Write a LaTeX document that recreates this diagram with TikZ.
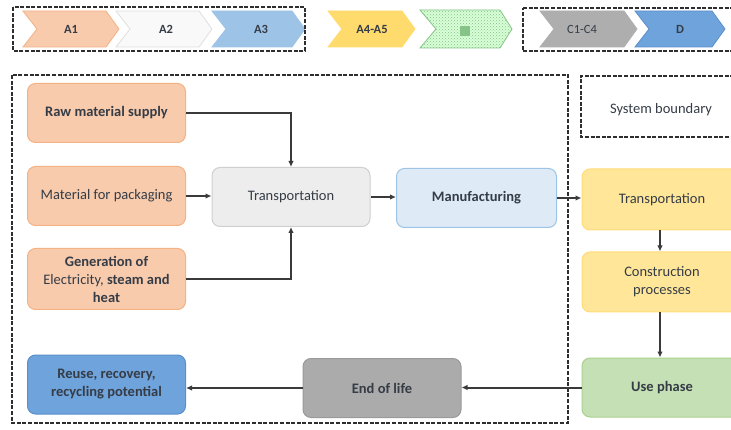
\documentclass[tikz,border=0pt]{standalone}
\usepackage{fontspec}
\setmainfont{Carlito}
\usetikzlibrary{arrows.meta,patterns}
\definecolor{orfill}{HTML}{F8CBAD}
\definecolor{ordraw}{HTML}{F4B183}
\definecolor{gyfill}{HTML}{EDEDED}
\definecolor{gydraw}{HTML}{D0CECE}
\definecolor{lbfill}{HTML}{DEEBF7}
\definecolor{lbdraw}{HTML}{9DC3E6}
\definecolor{yefill}{HTML}{FFE699}
\definecolor{yedraw}{HTML}{FFDC7A}
\definecolor{grfill}{HTML}{C5E0B4}
\definecolor{grdraw}{HTML}{A9D18E}
\definecolor{dgfill}{HTML}{ABABAB}
\definecolor{dgdraw}{HTML}{9A9A9A}
\definecolor{bufill}{HTML}{6FA3DC}
\definecolor{budraw}{HTML}{5A8FCB}
\definecolor{a3fill}{HTML}{9DC3E6}
\definecolor{a4fill}{HTML}{FFDB6E}
\definecolor{c1fill}{HTML}{AEAEAE}
\definecolor{dfill}{HTML}{6FA3DC}
\definecolor{txt}{HTML}{353C46}
\definecolor{arr}{HTML}{3A3A3A}
\definecolor{bnd}{HTML}{2E2E2E}
\definecolor{chgreen}{HTML}{86C386}
\begin{document}
\begin{tikzpicture}[x=1pt,y=-1pt,
  every node/.style={font=\fontsize{14.5}{18}\selectfont, text=txt, align=center},
  stage/.style={rounded corners=8pt, line width=1pt, minimum width=158pt, minimum height=59pt, inner sep=2pt},
  orbox/.style={stage, fill=orfill, draw=ordraw},
  bndline/.style={draw=bnd, line width=2.4pt, dash pattern=on 4pt off 1.6pt},
  flow/.style={draw=arr, line width=2pt, -{Latex[length=6pt,width=5.5pt]}},
  chev/.style={line width=0.8pt},
  chlabel/.style={font=\fontsize{12.5}{14}\selectfont\bfseries, text=txt}
]
\useasboundingbox (0,0) rectangle (731,430);
\clip (0,0) rectangle (731,430);

% ---- top row chevrons ----
\def\chevpath#1#2{(#1,11) -- (#2-13,11) -- (#2,29) -- (#2-13,47) -- (#1,47) -- (#1+14,29) -- cycle}
\filldraw[chev, fill=orfill, draw=ordraw] \chevpath{23}{119};
\node[chlabel] (a1) at (71,29) {A1};
\filldraw[chev, fill=white!95!gray, draw=gray!25] \chevpath{116}{212};
\node[chlabel] (a2) at (166,29) {A2};
\filldraw[chev, fill=a3fill, draw=lbdraw] \chevpath{212}{305};
\node[chlabel] (a3) at (261,29) {A3};
\filldraw[chev, fill=a4fill, draw=a4fill] \chevpath{328}{415};
\node[chlabel] (a45) at (372,29) {A4-A5};
\fill[white!85!green] (420,10) -- (500,10) -- (512,29) -- (500,48) -- (420,48) -- (436,29) -- cycle;
\fill[pattern=crosshatch dots, pattern color=chgreen] (420,10) -- (500,10) -- (512,29) -- (500,48) -- (420,48) -- (436,29) -- cycle;
\draw[chev, draw=chgreen] (420,10) -- (500,10) -- (512,29) -- (500,48) -- (420,48) -- (436,29) -- cycle;
\node[fill=chgreen, minimum size=10pt, inner sep=0pt] (bsq) at (465,31) {};
\filldraw[chev, fill=c1fill, draw=c1fill] \chevpath{540}{637};
\node[chlabel, font=\fontsize{12.5}{14}\selectfont] (c14) at (582,29) {C1-C4};
\filldraw[chev, fill=dfill, draw=budraw] \chevpath{635}{725};
\node[chlabel] (dd) at (680,29) {D};

% ---- boundary boxes ----
\draw[bndline] (13,7) rectangle (305,51);
\draw[bndline] (523,8) -- (740,8);
\draw[bndline] (740,51) -- (523,51) -- (523,8);
\draw[bndline] (12,75) rectangle (568,423);
\draw[bndline] (740,76) -- (581,76) -- (581,137) -- (740,137);
\node (sb) at (661,110) {System boundary};

% ---- process boxes ----
\node[orbox] (raw) at (106.5,113) {\bfseries Raw material supply};
\node[orbox] (mat) at (106.5,196) {Material for packaging};
\node[orbox, minimum height=61pt] (gen) at (106.5,279) {\bfseries Generation of\\Electricity, \bfseries steam and\\\bfseries heat};
\node[stage, fill=gyfill, draw=gydraw] (tr1) at (291,197) {Transportation};
\node[stage, fill=lbfill, draw=lbdraw, minimum width=160pt] (man) at (476.5,198) {\bfseries Manufacturing};
\node[stage, fill=yefill, draw=yedraw, minimum width=160pt, minimum height=61pt] (tr2) at (662,199.5) {Transportation};
\node[stage, fill=yefill, draw=yedraw, minimum width=160pt, minimum height=60pt] (con) at (662,282) {Construction\\processes};
\node[stage, fill=grfill, draw=grdraw, minimum width=160pt] (use) at (662,387.5) {\bfseries Use phase};
\node[stage, fill=dgfill, draw=dgdraw] (eol) at (382,388) {\bfseries End of life};
\node[stage, fill=bufill, draw=budraw] (reu) at (106.5,384.5) {\bfseries Reuse, recovery,\\\bfseries recycling potential};

% ---- connectors ----
\draw[flow] (raw.east) -| (tr1.north);
\draw[flow] (gen.east) -| (tr1.south);
\draw[flow] (mat.east) -- (mat.east -| tr1.west);
\draw[flow] (tr1.east) -- (tr1.east -| man.west);
\draw[flow] (man.east) -- (man.east -| tr2.west);
\draw[flow] (tr2.south -| 660,0) -- (con.north -| 660,0);
\draw[flow] (con.south -| 660,0) -- (use.north -| 660,0);
\draw[flow] (use.west) -- (use.west -| eol.east);
\draw[flow] (eol.west) -- (eol.west -| reu.east);
\end{tikzpicture}
\end{document}
